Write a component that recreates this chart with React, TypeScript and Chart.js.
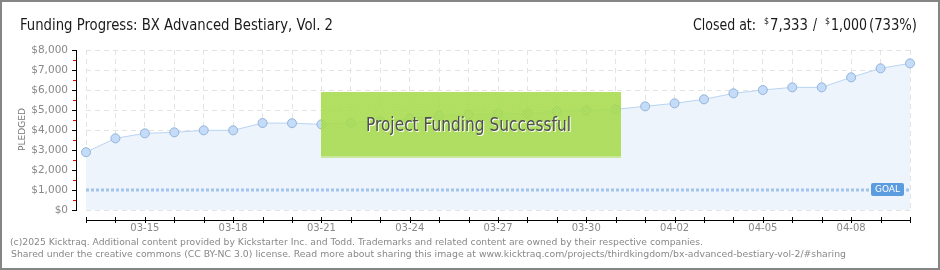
import React, { useEffect, useRef } from "react";
import { Chart, registerables } from "chart.js";

Chart.register(...registerables);

const DATES = [
  "03-13", "03-14", "03-15", "03-16", "03-17", "03-18", "03-19", "03-20", "03-21", "03-22",
  "03-23", "03-24", "03-25", "03-26", "03-27", "03-28", "03-29", "03-30", "03-31", "04-01",
  "04-02", "04-03", "04-04", "04-05", "04-06", "04-07", "04-08", "04-09", "04-10",
];
const PLEDGED = [
  2890, 3583, 3833, 3883, 3983, 3983, 4350, 4340, 4283, 4367,
  4450, 4583, 4717, 4767, 4817, 4817, 4933, 4983, 5033, 5183,
  5333, 5533, 5833, 6000, 6133, 6133, 6633, 7083, 7333,
];
const GOAL = 1000;
const Y_MAX = 8000;
const Y_STEP = 1000;
const TITLE = "Funding Progress: BX Advanced Bestiary, Vol. 2";
const SUCCESS_TEXT = "Project Funding Successful";
const FOOTER_1 =
  "(c)2025 Kicktraq. Additional content provided by Kickstarter Inc. and Todd. Trademarks and related content are owned by their respective companies.";
const FOOTER_2 =
  "Shared under the creative commons (CC BY-NC 3.0) license. Read more about sharing this image at www.kicktraq.com/projects/thirdkingdom/bx-advanced-bestiary-vol-2/#sharing";

const NARROW = '"Liberation Sans Narrow", "DejaVu Sans Condensed", sans-serif';
const SMALL = '"DejaVu Sans", sans-serif';

function fitText(ctx: CanvasRenderingContext2D, text: string, x: number, y: number, w: number) {
  const m = ctx.measureText(text).width || 1;
  ctx.save();
  ctx.translate(x, y);
  ctx.scale(w / m, 1);
  ctx.textAlign = "left";
  ctx.fillText(text, 0, 0);
  ctx.restore();
}

const decorPlugin = {
  id: "decor",
  beforeDraw(chart: any) {
    const ctx = chart.ctx as CanvasRenderingContext2D;
    ctx.save();
    ctx.fillStyle = "#ffffff";
    ctx.fillRect(0, 0, chart.width, chart.height);
    ctx.restore();
  },
  afterDraw(chart: any) {
    const ctx = chart.ctx as CanvasRenderingContext2D;
    const xs = chart.scales.x;
    const ys = chart.scales.y;
    const area = chart.chartArea;
    ctx.save();

    // Goal line
    const gy = Math.round(ys.getPixelForValue(GOAL));
    ctx.strokeStyle = "#a2c4ec";
    ctx.lineWidth = 3;
    ctx.setLineDash([3, 2]);
    ctx.beginPath();
    ctx.moveTo(area.left, gy);
    ctx.lineTo(area.right, gy);
    ctx.stroke();
    ctx.setLineDash([]);

    // Goal label
    const bx = area.right - 39;
    ctx.fillStyle = "#5b9be0";
    ctx.beginPath();
    (ctx as any).roundRect(bx, gy - 7, 33, 13, 2);
    ctx.fill();
    ctx.fillStyle = "#ffffff";
    ctx.font = `9px ${SMALL}`;
    ctx.textBaseline = "middle";
    fitText(ctx, "GOAL", bx + 4, gy, 25);

    // Y axis line + ticks
    const axX = area.left - 10;
    ctx.fillStyle = "#000000";
    ctx.fillRect(axX, Math.round(area.top), 1, Math.round(area.bottom - area.top) + 1);
    for (let v = 0; v <= Y_MAX; v += Y_STEP / 2) {
      const py = Math.round(ys.getPixelForValue(v));
      if (v % Y_STEP === 0) {
        ctx.fillStyle = "#000000";
        ctx.fillRect(axX - 4, py, 4, 1);
      } else {
        ctx.fillStyle = "#e00000";
        ctx.fillRect(axX - 3, py, 3, 1);
      }
    }

    // X axis line + ticks
    const axY = Math.round(area.bottom) + 10;
    ctx.fillStyle = "#000000";
    ctx.fillRect(Math.round(area.left), axY, Math.round(area.right - area.left) + 1, 1);
    for (let i = 0; i < DATES.length; i++) {
      const px = Math.round(xs.getPixelForValue(i));
      ctx.fillRect(px, axY - 3, 1, 6);
    }

    // Success box
    const sx0 = Math.round(xs.getPixelForValue(8));
    const sx1 = 621;
    const sy0 = 92;
    const sy1 = 158;
    ctx.globalAlpha = 0.88;
    ctx.fillStyle = "#a4d94a";
    ctx.fillRect(sx0, sy0, sx1 - sx0, sy1 - sy0);
    ctx.globalAlpha = 1;
    ctx.save();
    ctx.beginPath();
    ctx.rect(sx0, sy0, sx1 - sx0, sy1 - sy0 - 2);
    ctx.clip();
    ctx.strokeStyle = "rgba(190,232,110,0.4)";
    ctx.lineWidth = 1;
    for (let k = -100; k < sx1 - sx0 + 100; k += 3) {
      ctx.beginPath();
      ctx.moveTo(sx0 + k, sy1);
      ctx.lineTo(sx0 + k + (sy1 - sy0), sy0);
      ctx.stroke();
    }
    ctx.restore();
    ctx.fillStyle = "#c9e89c";
    ctx.fillRect(sx0, sy1 - 2, sx1 - sx0, 2);
    ctx.font = `20px ${NARROW}`;
    ctx.textBaseline = "middle";
    ctx.fillStyle = "#ffffff";
    fitText(ctx, SUCCESS_TEXT, 367, 127, 205);
    ctx.fillStyle = "#4f4f4f";
    fitText(ctx, SUCCESS_TEXT, 366, 126, 205);

    // Title
    ctx.fillStyle = "#1a1a1a";
    ctx.textBaseline = "alphabetic";
    ctx.font = `16px ${NARROW}`;
    fitText(ctx, TITLE, 20, 30, 313);

    // Closed at
    ctx.font = `16px ${NARROW}`;
    fitText(ctx, "Closed at:", 693, 30, 63);
    fitText(ctx, "7,333", 770, 30, 38);
    fitText(ctx, "/", 813, 30, 4);
    fitText(ctx, "1,000", 831, 30, 36);
    fitText(ctx, "(733%)", 869, 30, 48);
    ctx.font = `9px ${NARROW}`;
    fitText(ctx, "$", 764, 24, 5);
    fitText(ctx, "$", 825, 24, 5);

    // PLEDGED
    ctx.save();
    ctx.translate(23, 130);
    ctx.rotate(-Math.PI / 2);
    ctx.fillStyle = "#777777";
    ctx.font = `9px ${SMALL}`;
    ctx.textBaseline = "middle";
    fitText(ctx, "PLEDGED", -21, 0, 43);
    ctx.restore();

    // Footer
    ctx.fillStyle = "#888888";
    ctx.font = `9.5px ${SMALL}`;
    ctx.textBaseline = "middle";
    fitText(ctx, FOOTER_1, 10, 243, 693);
    fitText(ctx, FOOTER_2, 11, 255, 835);

    // Border
    ctx.strokeStyle = "#858585";
    ctx.lineWidth = 2;
    ctx.strokeRect(1, 1, chart.width - 2, chart.height - 2);

    ctx.restore();
  },
};

export default function App() {
  const ref = useRef<HTMLCanvasElement | null>(null);
  useEffect(() => {
    document.body.style.margin = "0";
    const canvas = ref.current;
    if (!canvas) return;
    const chart = new Chart(canvas, {
      type: "line",
      data: {
        labels: DATES,
        datasets: [
          {
            data: PLEDGED,
            borderColor: "#b9d5f2",
            borderWidth: 1,
            backgroundColor: "#edf4fc",
            fill: "origin",
            tension: 0,
            pointRadius: 4.5,
            pointBackgroundColor: "#c4dcf7",
            pointBorderColor: "#93b4dc",
            pointBorderWidth: 1,
          },
        ],
      },
      options: {
        animation: false,
        responsive: false,
        devicePixelRatio: 1,
        layout: { padding: { left: 0, right: 30, top: 50, bottom: 0 } },
        plugins: { legend: { display: false }, tooltip: { enabled: false }, title: { display: false } },
        scales: {
          x: {
            offset: false,
            grid: { color: "#e3e3e3", drawTicks: false, lineWidth: 1 },
            border: { display: false, dash: [5, 4] },
            ticks: {
              autoSkip: false,
              maxRotation: 0,
              minRotation: 0,
              padding: 12,
              color: "#888888",
              font: { family: "DejaVu Sans", size: 10 },
              callback: (_v: any, i: number) => ((i - 2) % 3 === 0 ? DATES[i] : ""),
            },
            afterFit: (s: any) => {
              s.height = 60;
            },
          },
          y: {
            min: 0,
            max: Y_MAX,
            grid: { color: "#e3e3e3", drawTicks: false, lineWidth: 1 },
            border: { display: false, dash: [5, 4] },
            ticks: {
              stepSize: Y_STEP,
              padding: 18,
              color: "#888888",
              font: { family: "DejaVu Sans", size: 10.5 },
              callback: (v: any) => "$" + Number(v).toLocaleString("en-US"),
            },
            afterFit: (s: any) => {
              s.width = 86;
            },
          },
        },
      },
      plugins: [decorPlugin],
    });
    return () => chart.destroy();
  }, []);
  return <canvas ref={ref} width={940} height={270} style={{ display: "block" }} />;
}
